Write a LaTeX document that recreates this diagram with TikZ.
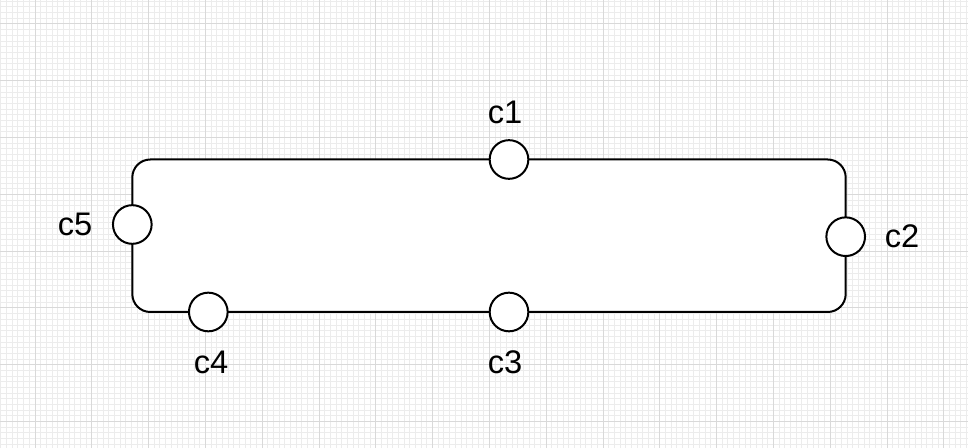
\documentclass[tikz,border=0pt]{standalone}
\usepackage{fontspec}
\setmainfont{Liberation Sans}

\begin{document}
\begin{tikzpicture}[x=0.75pt, y=-0.75pt,
    conector/.style={circle, draw, line width=1.5pt, fill=white, minimum size=29pt, inner sep=0pt},
    rotulo/.style={font=\fontsize{24.5}{27}\selectfont}]
  \useasboundingbox (0,0) rectangle (968,448);
  % grade de fundo (menor e maior)
  \fill[white] (0,0) rectangle (968,448);
  \begin{scope}[shift={(35,24)}]
    \draw[gray!15, line width=0.75pt, step=4.26pt] (-35,-24) grid (933,424);
    \draw[gray!30, line width=0.75pt, step=42.6pt] (-35,-24) grid (933,424);
  \end{scope}

  % bloco com cantos arredondados
  \coordinate (NO) at (132.3,159.5);
  \coordinate (SE) at (845.7,312);
  \draw[line width=1.5pt, fill=white, rounded corners=13.5pt] (NO) rectangle (SE);

  % conectores sobre as bordas
  \node[conector] (c1) at (509,159.5) {};
  \node[conector] (c2) at (845.7,236.7) {};
  \node[conector] (c3) at (509,312) {};
  \node[conector] (c4) at (208.3,312) {};
  \node[conector] (c5) at (132.3,224.5) {};

  % nomes dos conectores
  \node[rotulo] (l1) at (505,112) {c1};
  \node[rotulo] (l2) at (902,236.5) {c2};
  \node[rotulo] (l3) at (505,362) {c3};
  \node[rotulo] (l4) at (211,362) {c4};
  \node[rotulo] (l5) at (75,224) {c5};
\end{tikzpicture}
\end{document}
